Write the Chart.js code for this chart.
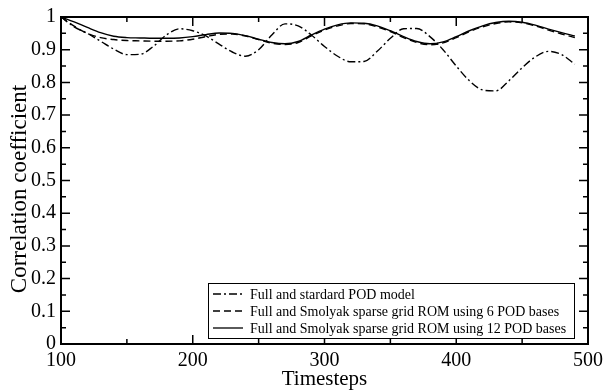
<!DOCTYPE html>
<html>
<head>
<meta charset="utf-8">
<script src="https://cdn.jsdelivr.net/npm/chart.js@4.4.1/dist/chart.umd.min.js"></script>
<style>
  html, body { margin: 0; padding: 0; background: #fff; }
  #wrap { width: 608px; height: 392px; }
</style>
</head>
<body>
<div id="wrap"><canvas id="grafico" width="608" height="392"></canvas></div>
<script>
// valores
const timesteps = [100, 110, 120, 130, 140, 150, 160, 170, 180, 190,
                   200, 210, 220, 230, 240, 250, 260, 270, 280, 290,
                   300, 310, 320, 330, 340, 350, 360, 370, 380, 390,
                   400, 410, 420, 430, 440, 450, 460, 470, 480, 490];

const podPadrao = [1.000, 0.970, 0.950, 0.926, 0.902, 0.885, 0.886, 0.910, 0.945, 0.964,
                   0.958, 0.942, 0.917, 0.893, 0.880, 0.900, 0.945, 0.979, 0.973, 0.945,
                   0.910, 0.880, 0.863, 0.864, 0.895, 0.935, 0.964, 0.965, 0.940, 0.900,
                   0.850, 0.805, 0.777, 0.774, 0.805, 0.845, 0.878, 0.895, 0.885, 0.856];

const smolyak6 = [1.000, 0.972, 0.950, 0.937, 0.931, 0.928, 0.927, 0.926, 0.926, 0.927,
                  0.932, 0.940, 0.947, 0.948, 0.942, 0.931, 0.920, 0.916, 0.922, 0.942,
                  0.960, 0.973, 0.980, 0.979, 0.970, 0.955, 0.937, 0.922, 0.915, 0.921,
                  0.937, 0.955, 0.970, 0.980, 0.985, 0.982, 0.973, 0.960, 0.948, 0.937];

const smolyak12 = [1.000, 0.985, 0.968, 0.952, 0.941, 0.937, 0.936, 0.935, 0.935, 0.936,
                   0.940, 0.946, 0.951, 0.950, 0.943, 0.932, 0.922, 0.918, 0.925, 0.945,
                   0.963, 0.976, 0.982, 0.981, 0.973, 0.958, 0.940, 0.925, 0.918, 0.924,
                   0.940, 0.958, 0.973, 0.983, 0.987, 0.984, 0.975, 0.963, 0.952, 0.942];

const rotulos = [
  'Full and stardard POD model',
  'Full and Smolyak sparse grid ROM using 6 POD bases',
  'Full and Smolyak sparse grid ROM using 12 POD bases'
];
const tracos = [[8, 3, 2, 3], [7, 4], []];

const xTicks = [100, 200, 300, 400, 500];
const yTicks = [0, 0.1, 0.2, 0.3, 0.4, 0.5, 0.6, 0.7, 0.8, 0.9, 1];
const xMenores = [150, 250, 350, 450];
const yMenores = [0.05, 0.15, 0.25, 0.35, 0.45, 0.55, 0.65, 0.75, 0.85, 0.95];
const tituloY = 'Correlation coefficient';

const fonte = '"Liberation Serif", "Times New Roman", serif';

function pares(valores) {
  return timesteps.map((t, i) => ({ x: t, y: valores[i] }));
}

// moldura com ticks para dentro nos quatro lados + legenda dentro do grafico
const molduraPlugin = {
  id: 'moldura',
  afterDraw(chart) {
    const { ctx, chartArea: a, scales } = chart;
    const sx = scales.x, sy = scales.y;
    ctx.save();
    ctx.strokeStyle = '#000';
    ctx.lineWidth = 1.5;
    const tickX = (v, len) => {
      const p = sx.getPixelForValue(v);
      ctx.beginPath();
      ctx.moveTo(p, a.bottom); ctx.lineTo(p, a.bottom - len);
      ctx.moveTo(p, a.top); ctx.lineTo(p, a.top + len);
      ctx.stroke();
    };
    const tickY = (v, len) => {
      const p = sy.getPixelForValue(v);
      ctx.beginPath();
      ctx.moveTo(a.left, p); ctx.lineTo(a.left + len, p);
      ctx.moveTo(a.right, p); ctx.lineTo(a.right - len, p);
      ctx.stroke();
    };
    xTicks.forEach(v => tickX(v, 9));
    xMenores.forEach(v => tickX(v, 5));
    yTicks.forEach(v => tickY(v, 9));
    yMenores.forEach(v => tickY(v, 5));

    ctx.lineWidth = 2;
    ctx.strokeRect(a.left, a.top, a.right - a.left, a.bottom - a.top);

    // titulo do eixo y (um pouco abaixo do centro, como no original)
    ctx.save();
    ctx.translate(20, 189);
    ctx.rotate(-Math.PI / 2);
    ctx.font = '23px ' + fonte;
    ctx.fillStyle = '#000';
    ctx.textAlign = 'center';
    ctx.textBaseline = 'middle';
    ctx.fillText(tituloY, 0, 0);
    ctx.restore();

    // legenda
    const lx = 208.5, ly = 283.5, lw = 366, lh = 55;
    ctx.fillStyle = '#fff';
    ctx.fillRect(lx, ly, lw, lh);
    ctx.lineWidth = 1;
    ctx.strokeRect(lx, ly, lw, lh);
    ctx.font = '14px ' + fonte;
    ctx.textBaseline = 'middle';
    ctx.textAlign = 'left';
    const linhasY = [294, 311, 328];
    chart.data.datasets.forEach((ds, i) => {
      const y = linhasY[i];
      ctx.setLineDash(ds.borderDash || []);
      ctx.lineWidth = 1.3;
      ctx.beginPath();
      ctx.moveTo(213, y); ctx.lineTo(243, y);
      ctx.stroke();
      ctx.setLineDash([]);
      ctx.fillStyle = '#000';
      ctx.fillText(ds.label, 250, y + 1);
    });
    ctx.restore();
  }
};

new Chart(document.getElementById('grafico'), {
  type: 'line',
  data: {
    datasets: [podPadrao, smolyak6, smolyak12].map((serie, i) => ({
      label: rotulos[i],
      data: pares(serie),
      borderColor: '#000',
      borderWidth: 1.4,
      borderDash: tracos[i],
      pointRadius: 0,
      fill: false,
      cubicInterpolationMode: 'monotone'
    }))
  },
  options: {
    responsive: false,
    animation: false,
    layout: { padding: { top: 13, right: 18, left: 0, bottom: 0 } },
    plugins: {
      legend: { display: false },
      tooltip: { enabled: false }
    },
    scales: {
      x: {
        type: 'linear',
        min: 100,
        max: 500,
        grid: { display: false, drawTicks: false },
        border: { display: false },
        afterBuildTicks: s => { s.ticks = xTicks.map(v => ({ value: v })); },
        afterFit: s => { s.height = 48; },
        ticks: {
          color: '#000',
          padding: 5,
          font: { family: fonte, size: 20 },
          maxRotation: 0,
          callback: v => String(v)
        },
        title: {
          display: true,
          text: 'Timesteps',
          color: '#000',
          padding: { top: -6, bottom: 0 },
          font: { family: fonte, size: 21 }
        }
      },
      y: {
        min: 0,
        max: 1,
        grid: { display: false, drawTicks: false },
        border: { display: false },
        afterBuildTicks: s => { s.ticks = yTicks.map(v => ({ value: v })); },
        afterFit: s => { s.width = 61; },
        ticks: {
          color: '#000',
          padding: 5,
          font: { family: fonte, size: 20 },
          callback: v => String(Math.round(v * 10) / 10)
        },
        title: { display: false }
      }
    }
  },
  plugins: [molduraPlugin]
});
</script>
</body>
</html>
